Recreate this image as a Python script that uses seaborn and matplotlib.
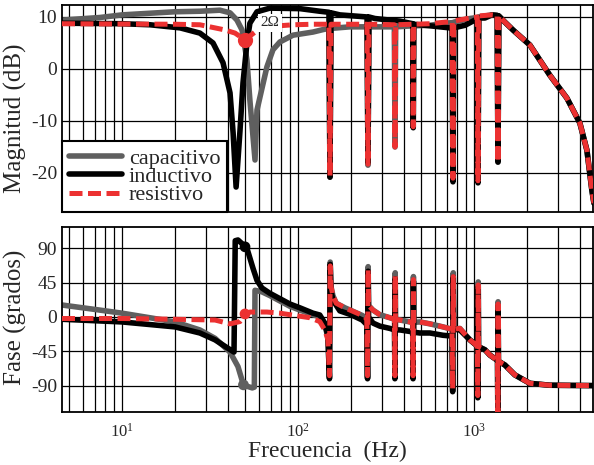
import matplotlib
matplotlib.use("Agg")
import matplotlib.pyplot as plt
import numpy as np
import seaborn as sns
from matplotlib.ticker import LogLocator, NullFormatter

sns.set_style("white")
plt.rcParams["font.family"] = ["Liberation Serif", "DejaVu Serif"]
plt.rcParams["mathtext.fontset"] = "stix"
plt.rcParams["axes.unicode_minus"] = False

# ---------------------------------------------------------------------
# Data (frequency in Hz)
# ---------------------------------------------------------------------
# Magnitude (dB)
cap_mag_f = [4.56, 7.5, 10, 20, 27.7, 36, 41.1, 45, 48.1, 51.3, 53.3, 57, 58.5, 66.6, 72.1, 79, 93.8,
             121.7, 140, 150, 152, 154, 197, 247, 250, 253, 292, 353, 356, 359, 449, 452, 455, 562,
             684, 752, 760, 768, 948, 1045, 1055, 1065, 1265, 1355, 1370, 1385, 1500, 1667, 2080,
             2700, 3375, 4000, 4385, 4680, 4810]
cap_mag_db = [9.4, 9.9, 10.4, 11.0, 11.1, 11.3, 10.8, 9.4, 7.5, 1.7, -6, -17.5, -7.9, 0.4, 3.7, 5.2, 6.5,
              7.1, 7.6, 7.8, -20.8, 7.8, 8.1, 8.1, -18.5, 8.1, 8.1, 8.1, -15, 8.1, 8.3, -11.1, 8.3, 8.4,
              8.8, 8.9, -21, 9.0, 9.7, 9.9, -21.5, 10.0, 10.4, 10.3, -17.9, 10.2, 9.0, 7.5, 4.6,
              -1.2, -5.6, -10.4, -15.6, -23.3, -25.8]

ind_mag_f = [4.56, 10, 14.4, 21.4, 27.7, 32.9, 37.5, 41.1, 42.8, 44.5, 46.8, 48.7, 51.3, 53.3, 58.5,
             69.3, 102.6, 133, 150, 152, 154, 173, 247, 250, 253, 274, 380, 449, 452, 455, 562, 730,
             752, 760, 768, 890, 1013, 1045, 1055, 1065, 1155, 1265, 1355, 1370, 1385, 1500, 1667,
             2080, 2700, 3375, 4000, 4385, 4680, 4810]
ind_mag_db = [8.8, 8.7, 8.5, 7.9, 6.9, 5.0, 1.2, -4.6, -12.3, -22.7, -12, -2.7, 5.0, 8.8, 11.0,
              11.7, 11.6, 11.1, 10.9, -20.8, 10.8, 10.4, 10.0, -18, 10.0, 9.7, 9.2, 8.7, -11.3, 8.6, 8.3, 7.9,
              7.9, -21.7, 7.9, 8.4, 9.4, 9.6, -21.9, 9.8, 9.8, 10.4, 10.3, -17.9, 10.2, 9.0, 7.5,
              4.6, -1.2, -5.6, -10.4, -15.6, -23.3, -25.8]

res_mag_f = [4.56, 20, 27.7, 31.6, 38.5, 43.9, 50, 57, 64.9, 93.8, 121.7, 150, 152, 154, 247, 250, 253,
             353, 356, 359, 449, 452, 455, 562, 684, 752, 760, 768, 948, 1045, 1055, 1065, 1265,
             1355, 1370, 1385, 1500, 1667, 2080, 2700, 3375, 4000, 4385, 4680, 4810]
res_mag_db = [8.7, 8.6, 8.5, 8.1, 7.5, 6.9, 5.6, 7.1, 8.1, 8.5, 8.6, 8.6, -20.5, 8.6, 8.6, -18.3, 8.6,
              8.5, -15, 8.5, 8.6, -11.1, 8.6, 8.7, 9.0, 9.1, -21, 9.2, 9.8, 10.0, -21.5, 10.2, 10.4,
              10.3, -17.9, 10.2, 9.0, 7.5, 4.6, -1.2, -5.6, -10.4, -15.6, -23.3, -25.8]

# Phase (degrees)
cap_ph_f = [4.56, 7.5, 10, 14.4, 20, 27.7, 33.8, 41.1, 45.6, 48.7, 50, 55, 56.5, 57, 62.4, 69.3, 90,
            102.6, 121.7, 133, 142, 148, 151, 152.5, 154, 158, 165, 185, 212, 232, 246, 248.5, 250.5,
            252, 267, 292, 333, 354, 355.5, 357, 358, 380, 433, 449, 451, 453, 455, 493, 562, 667,
            750, 757, 763, 768, 832, 948, 1045, 1052, 1058, 1062, 1155, 1233, 1362, 1368, 1372,
            1378, 1500, 1710, 2080, 2700, 4810]
cap_ph_deg = [15.7, 9, 5, -1, -6.5, -17, -28, -46, -65, -87, -90, -93, -92, 35, 33, 28, 14,
              9, 3, 0, -10, -27, -79, 72, 40, 28, 18, 12, 6, 2, -2, -79, 66,
              15, 9, 3, -1, -3, -79, 58, -3, -4, -6.5, -7, -79, 53, -7, -6.5, -9, -13,
              -16, -93, 58, -16, -15, -30, -38, -103, 46, -39, -43, -50, -57, -135, 20,
              -58, -63, -76, -87, -89.5, -90]

ind_ph_f = [4.56, 10, 20, 27.7, 33.8, 40, 43.3, 44, 45.6, 48.7, 51.3, 55.5, 58.5, 62.4, 69.3, 90,
            102.6, 121.7, 133, 142, 148, 151, 152.5, 154, 158, 173, 200, 232, 246, 248.5, 250.5, 252,
            267, 292, 333, 354, 355.5, 357, 358, 380, 433, 449, 451, 453, 455, 493, 562, 667, 750,
            757, 763, 768, 832, 948, 1045, 1052, 1058, 1062, 1155, 1233, 1362, 1368, 1372, 1378,
            1500, 1710, 2080, 2700, 4810]
ind_ph_deg = [-3, -6.5, -13, -21, -30, -41, -46, 100, 101, 95, 90, 64, 48, 38, 31, 17,
              12, 5, 2.6, -8, -25, -81, 69, 35, 22, 8, 3, -4, -10, -81, 60, 0,
              -8, -12, -15, -17, -81, 50, -17, -17, -19, -20, -81, 47, -20, -21, -21, -24, -25,
              -98, 52, -16, -17, -30, -38, -106, 40, -39, -43, -50, -57, -135, 15, -58,
              -63, -76, -87, -89.5, -90]

res_ph_f = [4.56, 10, 20, 33.8, 41.1, 46.8, 48.7, 50, 53.3, 66.6, 79, 102.6, 117, 133, 142, 148, 151,
            152.5, 154, 158, 165, 185, 212, 232, 246, 248.5, 250.5, 252, 267, 292, 333, 354, 355.5,
            357, 358, 380, 433, 449, 451, 453, 455, 493, 562, 667, 750, 757, 763, 768, 832, 948,
            1045, 1052, 1058, 1062, 1155, 1233, 1362, 1368, 1372, 1378, 1500, 1710, 2080, 2700, 4810]
res_ph_deg = [-2, -2, -3, -4, -9, -6, -1, 3, 6.5, 6.5, 5, 1, -1, -6, -17, -30, -77,
              67, 40, 28, 18, 12, 6, 2, -2, -77, 62, 15, 9, 3, -1, -3, -77,
              54, -3, -4, -6.5, -7, -77, 49, -7, -6.5, -9, -13, -16, -94, 53, -16, -15, -30,
              -38, -103, 42, -39, -43, -50, -57, -135, 17, -58, -63, -76, -87, -89.5, -90]

# Operating-point markers at 50 Hz
dot_mag_f, dot_mag_db = [50], [5.6]
dot_ph_f = [49, 50, 50]
dot_ph_deg = [-89, 92, 4]

series_names = ["capacitivo", "inductivo", "resistivo"]
GRAY, BLACK, RED = "#5f5f5f", "#000000", "#ec3131"
DASH = (0, (2.6, 1.1))


def draw(ax, f, v, color, lw, z, dashed=False):
    kw = {"linestyle": DASH} if dashed else {}
    sns.lineplot(x=f, y=v, ax=ax, color=color, linewidth=lw, estimator=None,
                 sort=False, zorder=z, **kw)


fig = plt.figure(figsize=(5.94, 4.65), dpi=100)
ax1 = fig.add_axes([62 / 594, 1 - 212 / 465, 531 / 594, 207 / 465])
ax2 = fig.add_axes([62 / 594, 1 - 412 / 465, 531 / 594, 185 / 465], sharex=ax1)

# Magnitude
draw(ax1, cap_mag_f, cap_mag_db, GRAY, 4.0, 2)
draw(ax1, ind_mag_f, ind_mag_db, BLACK, 4.0, 3)
draw(ax1, res_mag_f, res_mag_db, RED, 3.6, 4, dashed=True)
sns.scatterplot(x=dot_mag_f, y=dot_mag_db, ax=ax1, color=RED, s=120, linewidth=0, zorder=5)
ax1.text(69.3, 8.85, "2Ω", fontsize=11, ha="center", va="center", zorder=6,
         bbox=dict(facecolor="white", edgecolor="none", pad=1.5))

# Phase
draw(ax2, cap_ph_f, cap_ph_deg, GRAY, 4.0, 2)
draw(ax2, ind_ph_f, ind_ph_deg, BLACK, 4.0, 3)
draw(ax2, res_ph_f, res_ph_deg, RED, 3.6, 4, dashed=True)
sns.scatterplot(x=dot_ph_f, y=dot_ph_deg, ax=ax2, color=[GRAY, BLACK, RED], s=60,
                linewidth=0, zorder=5)

for ax in (ax1, ax2):
    ax.set_xscale("log")
    ax.set_xlim(4.56, 4750)
    ax.xaxis.set_minor_locator(LogLocator(base=10, subs=np.arange(2, 10)))
    ax.xaxis.set_minor_formatter(NullFormatter())
    ax.grid(True, which="both", axis="x", color="black", linewidth=0.9)
    ax.grid(True, which="major", axis="y", color="black", linewidth=0.9)
    ax.tick_params(which="both", length=0, labelsize=14)
    for s in ax.spines.values():
        s.set_color("black")
        s.set_linewidth(1.3)

ax1.set_ylim(-27.5, 12.3)
ax1.set_yticks([10, 0, -10, -20])
ax1.tick_params(labelbottom=False)
ax1.set_ylabel("Magnitud (dB)", fontsize=18)
ax1.yaxis.set_label_coords(-0.066, 0.454)

ax2.set_ylim(-124.6, 118)
ax2.set_yticks([90, 45, 0, -45, -90])
ax2.tick_params(axis="x", labelsize=12, pad=8)
ax2.set_ylabel("Fase (grados)", fontsize=18)
ax2.yaxis.set_label_coords(-0.066, 0.514)
ax2.set_xlabel("Frecuencia  (Hz)", fontsize=17)
ax2.xaxis.set_label_coords(0.5, -0.157)

handles = ax1.get_lines()[:3]
leg = ax1.legend(handles, series_names, loc="lower left", bbox_to_anchor=(0, 0),
                 borderaxespad=0, fontsize=16, handlelength=2.4, handletextpad=0.3,
                 labelspacing=-0.1, borderpad=0.3, fancybox=False, framealpha=1,
                 edgecolor="black")
leg.get_frame().set_linewidth(1.5)
leg.set_zorder(7)

fig.savefig("out.png", dpi=100)
